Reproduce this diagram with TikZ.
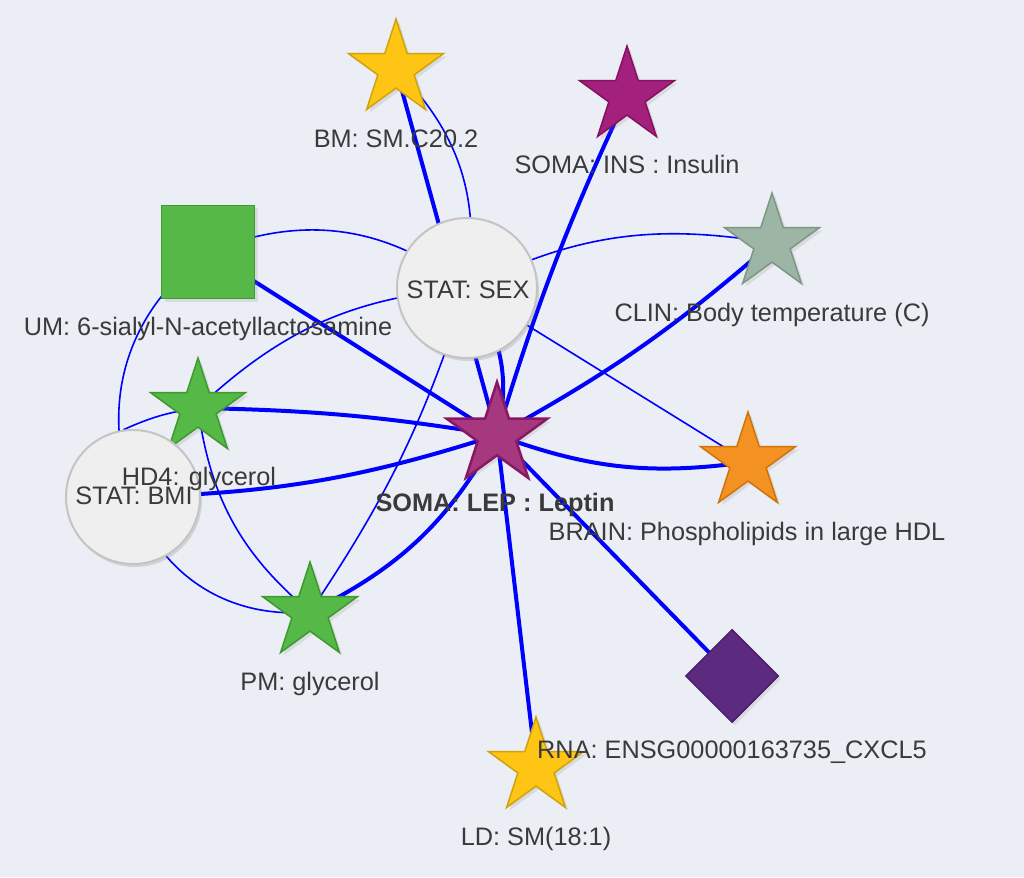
\documentclass[tikz,border=0pt]{standalone}
\usepackage{fontspec}
\setmainfont{Liberation Sans}
\usetikzlibrary{shapes.geometric,shadows}
\pgfdeclarelayer{back}
\pgfdeclarelayer{edges}
\pgfsetlayers{back,edges,main}
\definecolor{bgc}{HTML}{EBEEF4}
\definecolor{edgeblue}{HTML}{0000FF}
\definecolor{txt}{HTML}{3A3A3A}
\definecolor{yelF}{HTML}{FFC515}
\definecolor{yelD}{HTML}{CFA30C}
\definecolor{magF}{HTML}{A3207C}
\definecolor{magD}{HTML}{86105F}
\definecolor{lepF}{HTML}{A6387F}
\definecolor{lepD}{HTML}{8A1763}
\definecolor{grnF}{HTML}{56B847}
\definecolor{grnD}{HTML}{3C9A2E}
\definecolor{clnF}{HTML}{9DB5A4}
\definecolor{clnD}{HTML}{7D9784}
\definecolor{orgF}{HTML}{F39222}
\definecolor{orgD}{HTML}{D0740A}
\definecolor{purF}{HTML}{5C2B7F}
\definecolor{purD}{HTML}{4A1D6B}
\definecolor{cirF}{HTML}{EFEFEF}
\definecolor{cirD}{HTML}{C4C4C4}
\tikzset{
  shd/.style={drop shadow={opacity=0.18, shadow xshift=3pt, shadow yshift=-3pt}},
  starnode/.style={star, star points=5, star point ratio=2.618, minimum size=100pt, inner sep=0pt, line width=1.5pt, shd},
  statnode/.style={circle, inner sep=0pt, fill=cirF, draw=cirD, line width=2pt, drop shadow={opacity=0.25, shadow xshift=2pt, shadow yshift=-3pt}},
  lbl/.style={anchor=base, text=txt, inner sep=0pt, font=\fontsize{25.3}{29}\selectfont},
  thickedge/.style={draw=edgeblue, line width=4pt},
  thinedge/.style={draw=edgeblue, line width=1.6pt},
}
\begin{document}
\begin{tikzpicture}[x=1pt,y=1pt]
\begin{pgfonlayer}{back}
\fill[bgc] (0,-877) rectangle (1024,0);
\end{pgfonlayer}
\useasboundingbox (0,-877) rectangle (1024,0);

% nodes
\node[starnode, fill=yelF, draw=yelD] (bm) at (396,-69) {};
\node[starnode, fill=magF, draw=magD] (ins) at (627,-96) {};
\node[statnode, minimum size=140pt] (sex) at (467,-288) {};
\node[rectangle, minimum size=93pt, inner sep=0pt, fill=grnF, draw=grnD, line width=1.5pt, shd] (um) at (208,-252) {};
\node[starnode, fill=clnF, draw=clnD] (clin) at (772,-243) {};
\node[starnode, fill=grnF, draw=grnD] (hd4) at (198,-408) {};
\node[statnode, minimum size=134pt] (bmi) at (133,-497) {};
\node[starnode, fill=grnF, draw=grnD] (pm) at (310,-612) {};
\node[starnode, minimum size=106pt, fill=lepF, draw=lepD, line width=2.5pt] (lep) at (497,-435) {};
\node[starnode, fill=orgF, draw=orgD] (brain) at (748,-462) {};
\node[diamond, aspect=1, minimum size=93pt, inner sep=0pt, fill=purF, draw=purD, line width=1.5pt, shd] (rna) at (732,-676) {};
\node[starnode, fill=yelF, draw=yelD] (ld) at (536,-767) {};

% edges
\begin{pgfonlayer}{edges}
\draw[thickedge] (bm.center) -- (lep.center);
\draw[thickedge] (lep.center) to[bend left=4] (ins.center);
\draw[thickedge] (sex.center) to[bend left=25] (lep.center);
\draw[thickedge] (um.center) -- (lep.center);
\draw[thickedge] (hd4.center) to[bend left=4] (lep.center);
\draw[thickedge] (bmi.center) to[bend right=8] (lep.center);
\draw[thickedge] (pm.center) to[bend right=17] (lep.center);
\draw[thickedge] (lep.center) to[bend right=6] (clin.center);
\draw[thickedge] (lep.center) to[bend right=14] (brain.center);
\draw[thickedge] (lep.center) -- (rna.center);
\draw[thickedge] (lep.center) -- (ld.center);
\draw[thinedge] (bm.center) to[bend left=27] (sex.center);
\draw[thinedge] (um.center) to[bend left=30] (sex.center);
\draw[thinedge] (sex.center) to[bend right=19] (hd4.center);
\draw[thinedge] (sex.center) to[bend left=18] (clin.center);
\draw[thinedge] (sex.center) -- (brain.center);
\draw[thinedge] (sex.center) to[bend left=8] (pm.center);
\draw[thinedge] (um.center) to[bend right=37] (bmi.center);
\draw[thinedge] (bmi.98) to[bend left=8] (hd4.center);
\draw[thinedge] (hd4.center) to[bend right=21] (pm.center);
\draw[thinedge] (bmi.center) to[bend right=38] (pm.center);
\end{pgfonlayer}

% labels
\node[lbl] (bmL) at (396,-148) {BM: SM.C20.2};
\node[lbl] (insL) at (627,-174) {SOMA: INS : Insulin};
\node[lbl] (sexL) at (468,-298) {STAT: SEX};
\node[lbl] (umL) at (208,-335) {UM: 6-sialyl-N-acetyllactosamine};
\node[lbl] (clinL) at (772,-321) {CLIN: Body temperature (C)};
\node[lbl] (hd4L) at (199,-485) {HD4: glycerol};
\node[lbl] (bmiL) at (134,-504) {STAT: BMI};
\node[lbl] (lepL) at (495,-511) {\bfseries SOMA: LEP : Leptin};
\node[lbl] (brainL) at (747,-540) {BRAIN: Phospholipids in large HDL};
\node[lbl] (pmL) at (310,-690) {PM: glycerol};
\node[lbl] (rnaL) at (732,-758) {RNA: ENSG00000163735\_CXCL5};
\node[lbl] (ldL) at (536,-845) {LD: SM(18:1)};
\end{tikzpicture}
\end{document}
